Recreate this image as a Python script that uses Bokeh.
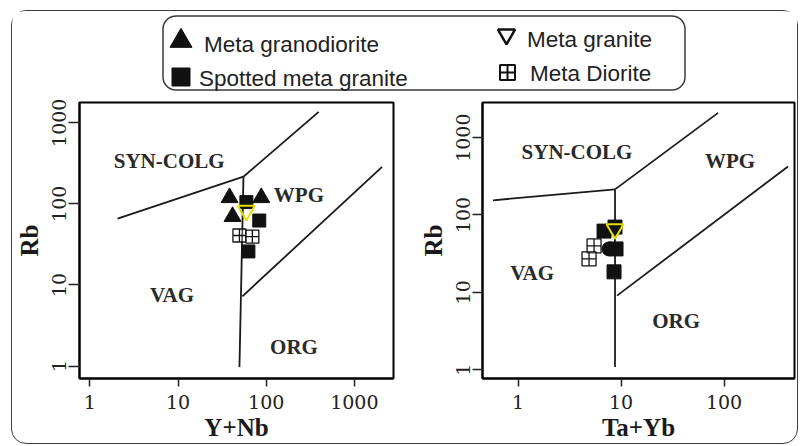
import numpy as np
from bokeh.plotting import figure
from bokeh.layouts import column, row
from bokeh.models import FixedTicker, Range1d, BasicTickFormatter
from bokeh.core.properties import value
from bokeh.embed import file_html
from bokeh.resources import INLINE

# ---------------- data ----------------
series_names = ["Meta granodiorite", "Spotted meta granite", "Meta granite", "Meta Diorite"]
field_names = ["SYN-COLG", "WPG", "VAG", "ORG"]

# tick values
ynb_ticks = [1, 10, 100, 1000]
rb_ticks = [1, 10, 100, 1000]
tayb_ticks = [1, 10, 100]

# Left diagram: Rb vs Y+Nb
gd_ynb = [38.4, 87.9, 41.5]
gd_rb_a = [119.0, 119.0, 69.6]
sp_ynb = [59.6, 83.4, 62.8]
sp_rb_a = [105.0, 62.2, 25.9]
mg_ynb = [59.6]
mg_rb_a = [82.5]
md_ynb = [49.7, 69.6]
md_rb_a = [40.7, 39.5]

# Right diagram: Rb vs Ta+Yb
sp_tayb = [6.84, 8.74, 8.94, 8.55]
sp_rb_b = [61.9, 69.7, 36.4, 18.4]
sp_round_tayb = [7.64]
sp_round_rb_b = [36.4]
mg_tayb = [8.74]
mg_rb_b = [65.8]
md_tayb = [5.47, 4.89]
md_rb_b = [39.8, 27.1]

# Field boundaries, left diagram
a_syn_vag_x, a_syn_vag_y = [2.06, 55.2], [65.8, 215.9]
a_syn_wpg_x, a_syn_wpg_y = [55.2, 394.0], [215.9, 1358.0]
a_vag_org_x, a_vag_org_y = [55.2, 49.7], [215.9, 0.97]
a_wpg_org_x, a_wpg_org_y = [53.7, 2064.0], [7.24, 286.0]
# right diagram
b_syn_vag_x, b_syn_vag_y = [0.572, 8.74], [154.9, 214.3]
b_syn_wpg_x, b_syn_wpg_y = [8.74, 87.5], [214.3, 2089.0]
b_vag_org_x, b_vag_org_y = [8.74, 8.74], [214.3, 1.08]
b_wpg_org_x, b_wpg_org_y = [9.15, 418.0], [9.07, 423.0]

# field label anchor points (data space)
a_lab_x = [7.92, 235.0, 8.56, 206.5]
a_lab_y = [339.5, 129.7, 7.45, 1.71]
b_lab_x = [3.74, 114.4, 1.37, 34.2]
b_lab_y = [659.0, 505.0, 17.9, 4.21]

BLACK = "#111111"
YELLOW = "#e3df00"
SERIF = "Liberation Serif"
PANEL_H = 348


def panel(width, xr, yr, xticks, yticks, xlabel, mbl, mbr, mbt, mbb, ytick_out):
    p = figure(width=width, height=PANEL_H, x_axis_type="log", y_axis_type="log",
               x_range=Range1d(*xr), y_range=Range1d(*yr),
               output_backend="svg", toolbar_location=None,
               min_border_left=mbl, min_border_right=mbr,
               min_border_top=mbt, min_border_bottom=mbb)
    p.grid.visible = False
    p.outline_line_color = "black"
    p.outline_line_width = 2
    p.border_fill_color = None
    for ax, ticks, tout in ((p.xaxis[0], xticks, 8), (p.yaxis[0], yticks, ytick_out)):
        ax.ticker = FixedTicker(ticks=ticks)
        ax.formatter = BasicTickFormatter(use_scientific=False)
        ax.major_tick_out = tout
        ax.major_tick_in = 0
        ax.major_tick_line_width = 1.5
        ax.major_tick_line_color = "#222222"
        ax.minor_tick_line_color = None
        ax.axis_line_color = "black"
        ax.axis_line_width = 2
        ax.major_label_text_font = "DejaVu Serif"
        ax.major_label_text_font_size = "19px"
        ax.major_label_text_color = "#222222"
        ax.axis_label_text_font = SERIF
        ax.axis_label_text_font_style = "bold"
        ax.axis_label_text_font_size = "25px"
        ax.axis_label_text_color = "#1a1a1a"
    p.xaxis.major_label_standoff = 8
    p.xaxis.axis_label_standoff = 2
    p.yaxis.major_label_standoff = 2
    p.yaxis.axis_label_standoff = 7
    p.yaxis.major_label_orientation = "vertical"
    p.xaxis.axis_label = xlabel
    p.yaxis.axis_label = "Rb"
    return p


def boundaries(p, segs):
    for xs, ys in segs:
        p.line(xs, ys, line_color="#1a1a1a", line_width=1.8)


def field_labels(p, xs, ys):
    p.text(x=xs, y=ys, text=field_names, text_font=value(SERIF), text_font_style="bold",
           text_font_size="21px", text_align="center", text_baseline="middle",
           text_color="#2a2a2a")


# ---------------- left panel ----------------
left = panel(388, (0.762, 2780), (0.702, 1775), ynb_ticks, rb_ticks, "Y+Nb",
             64, 7, 7, 64, 11)
boundaries(left, [(a_syn_vag_x, a_syn_vag_y), (a_syn_wpg_x, a_syn_wpg_y),
                  (a_vag_org_x, a_vag_org_y), (a_wpg_org_x, a_wpg_org_y)])
field_labels(left, a_lab_x, a_lab_y)
left.scatter(sp_ynb, sp_rb_a, marker="square", size=13, color=BLACK)
left.scatter(gd_ynb, gd_rb_a, marker="triangle", size=17, color=BLACK)
left.scatter(md_ynb, md_rb_a, marker="square_cross", size=13, fill_color="white",
             fill_alpha=0.3, line_color=BLACK, line_width=1.3)
left.scatter(mg_ynb, mg_rb_a, marker="inverted_triangle", size=17, fill_color=None,
             line_color=YELLOW, line_width=2)

# ---------------- right panel ----------------
right = panel(397, (0.452, 483), (0.769, 2846), tayb_ticks, rb_ticks, "Ta+Yb",
              82, 3, 5, 65, 10)
boundaries(right, [(b_syn_vag_x, b_syn_vag_y), (b_syn_wpg_x, b_syn_wpg_y),
                   (b_vag_org_x, b_vag_org_y), (b_wpg_org_x, b_wpg_org_y)])
field_labels(right, b_lab_x, b_lab_y)
right.scatter(sp_tayb, sp_rb_b, marker="square", size=14, color=BLACK)
right.scatter(sp_round_tayb, sp_round_rb_b, marker="circle", size=14, color=BLACK)
right.scatter(md_tayb, md_rb_b, marker="square_cross", size=14, fill_color="white",
              fill_alpha=0.3, line_color=BLACK, line_width=1.3)
right.scatter(mg_tayb, mg_rb_b, marker="inverted_triangle", size=17, fill_color=None,
              line_color=YELLOW, line_width=2)

# ---------------- legend strip ----------------
top = figure(width=785, height=84, x_range=Range1d(12.5, 797.5), y_range=Range1d(95.5, 11.5),
             output_backend="svg", toolbar_location=None, min_border=0)
top.axis.visible = False
top.grid.visible = False
top.outline_line_color = None
top.border_fill_color = None


def rounded_box(x0, y0, x1, y1, r):
    xs, ys = [], []
    for cx, cy, a0 in ((x1 - r, y0 + r, -90), (x1 - r, y1 - r, 0),
                       (x0 + r, y1 - r, 90), (x0 + r, y0 + r, 180)):
        t = np.radians(np.linspace(a0, a0 + 90, 12))
        xs.extend(cx + r * np.cos(t))
        ys.extend(cy + r * np.sin(t))
    xs.append(xs[0])
    ys.append(ys[0])
    return xs, ys


bx, by = rounded_box(163, 16, 685, 90, 13)
top.line(bx, by, line_color="#3a3a3a", line_width=1.5)
top.scatter([181], [41], marker="triangle", size=22, color=BLACK)
top.scatter([181], [77], marker="square", size=18, color=BLACK)
top.scatter([506.5], [34.5], marker="inverted_triangle", size=17, fill_color=None,
            line_color=BLACK, line_width=2.5)
top.scatter([507.5], [72.5], marker="square_cross", size=15, fill_color=None,
            line_color=BLACK, line_width=2)
top.text(x=[204, 199, 527, 530], y=[44, 78, 39.5, 73], text=series_names,
         text_font=value("Liberation Sans"), text_font_size="22.5px",
         text_baseline="middle", text_align="left", text_color="#222222")

layout = column(top, row(left, right),
                styles={"border": "1.5px solid #3c3c3c", "border-radius": "15px",
                        "margin-left": "11px", "margin-top": "10px"})

open("out.html", "w").write(file_html(layout, INLINE))
